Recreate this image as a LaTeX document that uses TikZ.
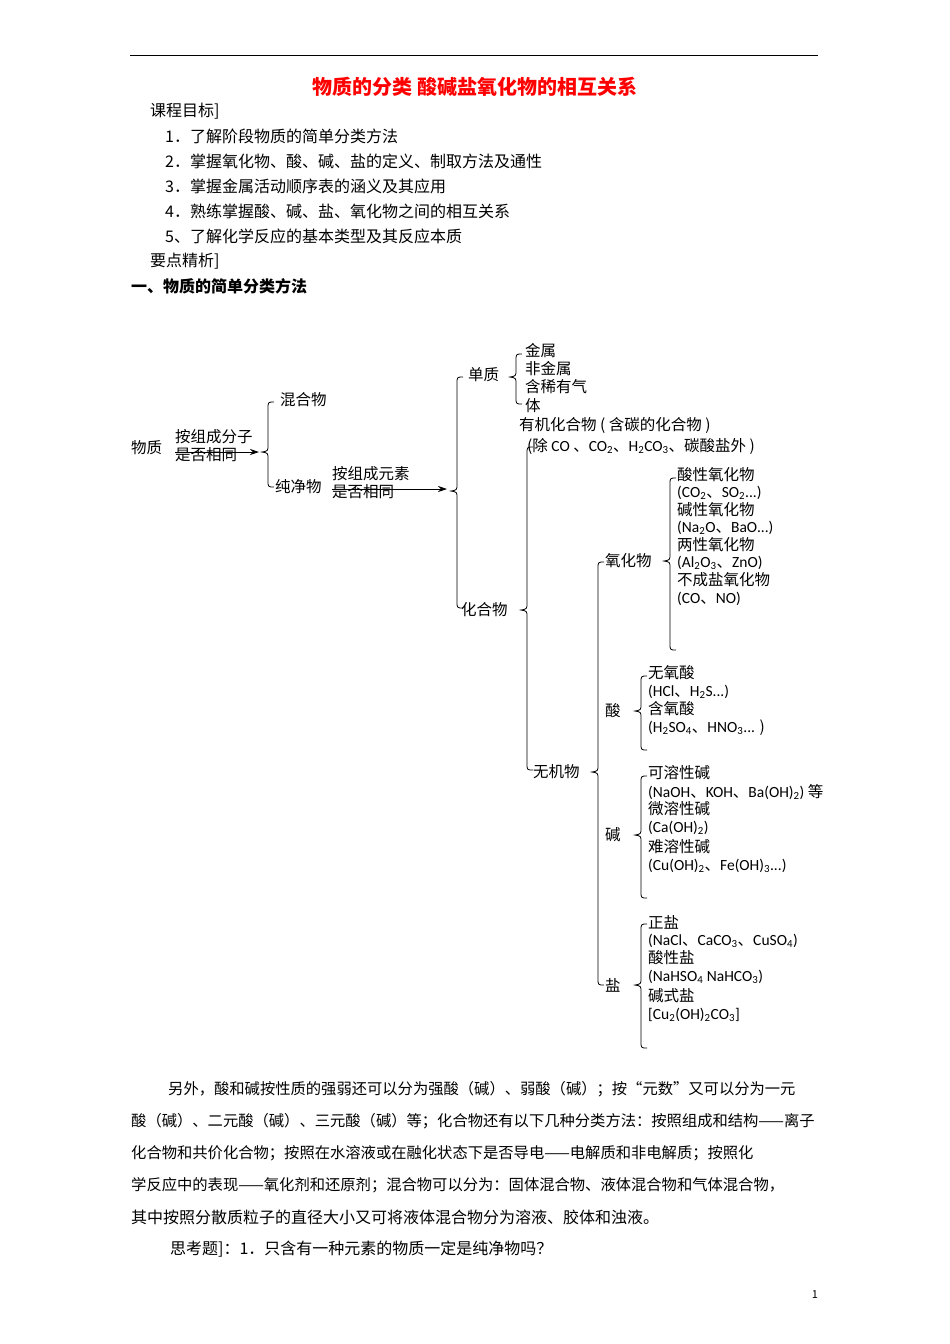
\documentclass[tikz,border=0pt]{standalone}
\usepackage{fontspec}
\setmainfont{Noto Sans CJK SC}
\newfontfamily\lat{Carlito}
\XeTeXlinebreaklocale "zh"
\XeTeXlinebreakskip=0pt plus 4pt minus 0.3pt
\usetikzlibrary{arrows.meta}
\newcommand\dun{{\normalfont 、}}
\newcommand\mybrace[4]{% x, top, mid, bottom
 \draw[brc] (#1+6,#2) .. controls (#1,#2) .. (#1,#2+7) -- (#1,#3-7) .. controls (#1,#3-1) .. (#1-6,#3) .. controls (#1,#3+1) .. (#1,#3+7) -- (#1,#4-7) .. controls (#1,#4) .. (#1+6,#4);}
\newcommand\jline[1]{\parfillskip=0pt\relax\hbadness=10000 #1}
\begin{document}
\begin{tikzpicture}[x=1pt,y=-1pt,
  t/.style={anchor=west,inner sep=0pt,font=\fontsize{16}{16}\selectfont},
  jl/.style={anchor=west,inner sep=0pt,text width=#1,align=justify,font=\fontsize{15.3}{16}\selectfont},
  d/.style={anchor=west,inner sep=0pt,font=\fontsize{15.5}{16}\selectfont},
  brc/.style={line width=0.8pt},
  arr/.style={line width=0.8pt,-{Stealth[length=9pt,width=6pt,inset=3pt]}}]
\useasboundingbox (0,0) rectangle (950,1344);
\draw[line width=0.8pt] (130,55) -- (818,55);
\node[inner sep=0pt,text=red,font=\fontsize{20}{20}\selectfont\bfseries] (title) at (475,87) {物质的分类\ 酸碱盐氧化物的相互关系};
\node[t] (g0) at (150,111) {课程目标]};
\node[t] (g1) at (165,136) {1．了解阶段物质的简单分类方法};
\node[t] (g2) at (165,161) {2．掌握氧化物、酸、碱、盐的定义、制取方法及通性};
\node[t] (g3) at (165,186) {3．掌握金属活动顺序表的涵义及其应用};
\node[t] (g4) at (165,211) {4．熟练掌握酸、碱、盐、氧化物之间的相互关系};
\node[t] (g5) at (165,236) {5、了解化学反应的基本类型及其反应本质};
\node[t] (g6) at (150,261) {要点精析]};
\node[t,font=\fontsize{16}{16}\selectfont\bfseries] (h1) at (131,286) {一、物质的简单分类方法};
% diagram
\node[d] (wz) at (131,448) {物质};
\node[d] (a1) at (175,437) {按组成分子};
\node[d] (a2) at (175,455) {是否相同};
\coordinate (a1s) at (175,452); \coordinate (a1e) at (259,452);
\draw[arr] (a1s) -- (a1e);
\mybrace{268}{402}{452}{487}
\node[d] (hh) at (280,400) {混合物};
\node[d] (cj) at (275,487) {纯净物};
\node[d] (b1) at (332,474) {按组成元素};
\node[d] (b2) at (332,492) {是否相同};
\coordinate (b1s) at (332,489); \coordinate (b1e) at (447,489);
\draw[arr] (b1s) -- (b1e);
\mybrace{457}{377}{491}{608}
\node[d] (dz) at (468,375) {单质};
\node[d] (hhw) at (461,610) {化合物};
\mybrace{516}{354}{377}{404}
\node[d] (m1) at (525,351) {金属};
\node[d] (m2) at (525,369) {非金属};
\node[d] (m3) at (525,387) {含稀有气};
\node[d] (m4) at (525,406) {体};
\node[d] (yj) at (519,425) {有机化合物 ( 含碳的化合物 )};
\node[d] (yj2) at (527,446) {(除 {\lat CO} 、{\lat CO\textsubscript{2}}、{\lat H\textsubscript{2}CO\textsubscript{3}}、碳酸盐外 )};
\mybrace{527}{447}{610}{770}
\node[d] (wj) at (533,772) {无机物};
\draw[brc] (604,562) .. controls (598,562) .. (598,569) -- (598,765) .. controls (598,771) .. (592,772) .. controls (598,773) .. (598,779) -- (598,978) .. controls (598,985) .. (604,985);
\node[d] (yh) at (605,561) {氧化物};
\node[d] (s) at (605,711) {酸};
\node[d] (j) at (605,835) {碱};
\node[d] (y) at (605,985) {盐};
\mybrace{670}{478}{561}{650}
\node[d] (o1) at (677,475) {酸性氧化物};
\node[d] (o2) at (677,493) {\lat (CO\textsubscript{2}\dun SO\textsubscript{2}...)};
\node[d] (o3) at (677,510) {碱性氧化物};
\node[d] (o4) at (677,528) {\lat (Na\textsubscript{2}O\dun BaO...)};
\node[d] (o5) at (677,545) {两性氧化物};
\node[d] (o6) at (677,563) {\lat (Al\textsubscript{2}O\textsubscript{3}\dun ZnO)};
\node[d] (o7) at (677,580) {不成盐氧化物};
\node[d] (o8) at (677,599) {\lat (CO\dun NO)};
\mybrace{641}{676}{711}{750}
\node[d] (s1) at (648,673) {无氧酸};
\node[d] (s2) at (648,692) {\lat (HCl\dun H\textsubscript{2}S...)};
\node[d] (s3) at (648,709) {含氧酸};
\node[d] (s4) at (648,728) {{\lat (H\textsubscript{2}SO\textsubscript{4}\dun HNO\textsubscript{3}...} )};
\mybrace{641}{776}{835}{898}
\node[d] (j1) at (648,773) {可溶性碱};
\node[d] (j2) at (648,792) {{\lat (NaOH\dun KOH\dun Ba(OH)\textsubscript{2})} 等};
\node[d] (j3) at (648,809) {微溶性碱};
\node[d] (j4) at (648,828) {\lat (Ca(OH)\textsubscript{2})};
\node[d] (j5) at (648,847) {难溶性碱};
\node[d] (j6) at (648,866) {\lat (Cu(OH)\textsubscript{2}\dun Fe(OH)\textsubscript{3}...)};
\mybrace{641}{924}{985}{1048}
\node[d] (y1) at (648,922) {正盐};
\node[d] (y2) at (648,941) {\lat (NaCl\dun CaCO\textsubscript{3}\dun CuSO\textsubscript{4})};
\node[d] (y3) at (648,958) {酸性盐};
\node[d] (y4) at (648,977) {\lat (NaHSO\textsubscript{4} NaHCO\textsubscript{3})};
\node[d] (y5) at (648,996) {碱式盐};
\node[d] (y6) at (648,1015) {\lat [Cu\textsubscript{2}(OH)\textsubscript{2}CO\textsubscript{3}]};
% paragraph
\node[jl=650pt] (p1) at (168,1089) {\jline{另外，酸和碱按性质的强弱还可以分为强酸（碱）、弱酸（碱）；按“元数”又可以分为一元}};
\node[jl=687pt] (p2) at (131,1121) {\jline{酸（碱）、二元酸（碱）、三元酸（碱）等；化合物还有以下几种分类方法：按照组成和结构——离子}};
\node[jl=687pt] (p3) at (131,1153) {\jline{化合物和共价化合物；按照在水溶液或在融化状态下是否导电——电解质和非电解质；按照化}};
\node[jl=687pt] (p4) at (131,1185) {\jline{学反应中的表现——氧化剂和还原剂；混合物可以分为：固体混合物、液体混合物和气体混合物，}};
\node[t] (p5) at (131,1217) {其中按照分散质粒子的直径大小又可将液体混合物分为溶液、胶体和浊液。};
\node[t] (p6) at (170,1249) {思考题]：1．只含有一种元素的物质一定是纯净物吗？};
\node[inner sep=0pt,font=\fontsize{11}{12}\selectfont] (pg) at (815,1295) {1};
\end{tikzpicture}
\end{document}
